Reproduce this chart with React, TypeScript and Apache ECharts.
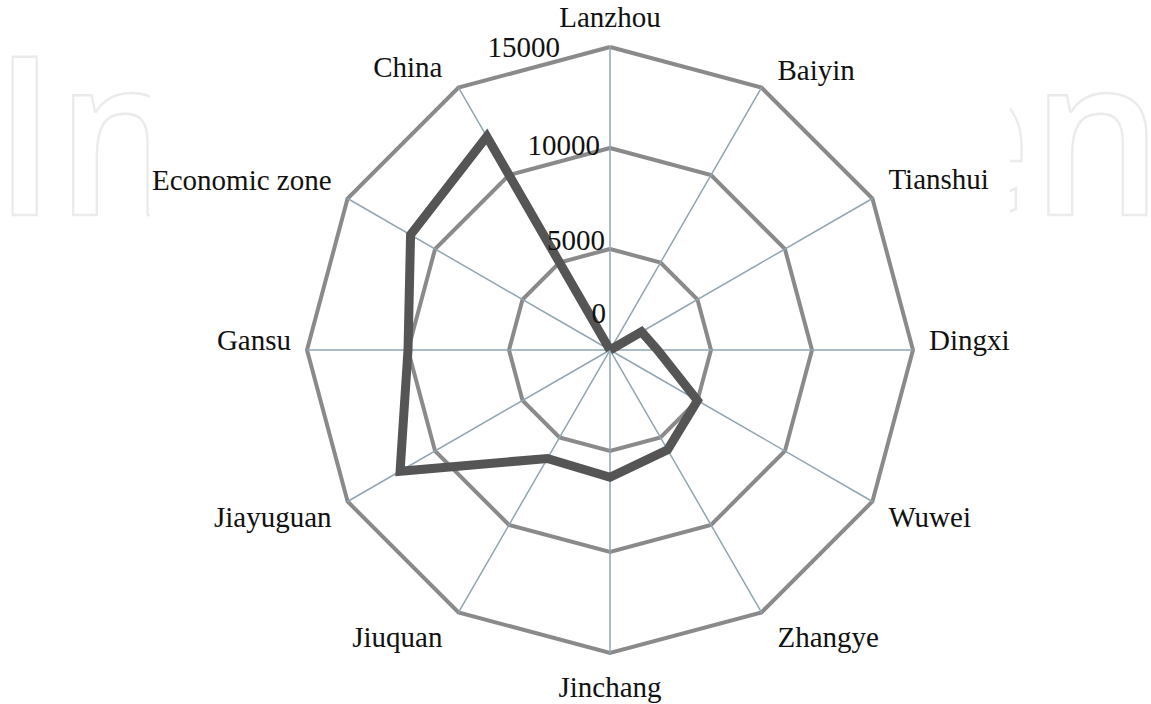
import React, { useEffect, useRef } from "react";
import * as echarts from "echarts";

// Categories listed clockwise starting at the top of the chart
const categories = [
  "Lanzhou",
  "Baiyin",
  "Tianshui",
  "Dingxi",
  "Wuwei",
  "Zhangye",
  "Jinchang",
  "Jiuquan",
  "Jiayuguan",
  "Gansu",
  "Economic zone",
  "China",
];
const values = [0, 0, 1800, 2350, 5000, 5700, 6300, 6200, 12000, 10000, 11400, 12200];
const tickValues = [0, 5000, 10000, 15000];
const tickLabels = ["0", "5000", "10000", "15000"];
const axisMax = 15000;

export default function App() {
  const ref = useRef<HTMLDivElement>(null);
  useEffect(() => {
    const chart = echarts.init(ref.current!, null, { renderer: "svg" });
    const cx = 610;
    const cy = 350;
    const R = 303;
    const n = categories.length;
    // ECharts lays indicators counter-clockwise from the top: reorder
    const order = categories.map((_, k) => (n - k) % n);
    const indicator = order.map((j) => ({ name: categories[j], max: axisMax, min: 0 }));
    const data = order.map((j) => values[j]);

    const font = '"Liberation Serif", "Times New Roman", serif';
    const fontSize = 29;

    // tick label layout tweaks
    const tickDx = [-4, -5, -10, -50];
    const tickDy = [-37, -9, -3, 0];

    // category label layout (vertical offset of text middle from vertex)
    const nameGapX = 16;
    const nameDy = [-30, -18, -20, -10, 15.5, 24.6, 33.5, 24.6, 15.5, -10, -18.5, -20.6];
    const nameGraphics = categories.map((name, j) => {
      const th = ((90 - 30 * j) * Math.PI) / 180;
      const vx = cx + R * Math.cos(th);
      const vy = cy - R * Math.sin(th);
      const c = Math.cos(th);
      const align = Math.abs(c) < 0.01 ? "center" : c > 0 ? "left" : "right";
      const x = align === "center" ? vx : align === "left" ? vx + nameGapX : vx - nameGapX;
      return {
        type: "text",
        z: 100,
        silent: true,
        x,
        y: vy + nameDy[j],
        style: {
          text: name,
          font: `${fontSize}px ${font}`,
          fill: "#111",
          textAlign: align,
          textVerticalAlign: "middle",
        },
      };
    });

    // watermark sizing
    const wmText = "IntechOpen";
    const wmFontSize = 221;
    const wmFont = `600 ${wmFontSize}px "Open Sans", "DejaVu Sans", sans-serif`;
    let wmScale = 1;
    let wmX = 0;
    try {
      const cv = document.createElement("canvas");
      const ctx = cv.getContext("2d")!;
      ctx.font = wmFont;
      const m = ctx.measureText(wmText);
      const gw = m.actualBoundingBoxLeft + m.actualBoundingBoxRight;
      wmScale = 1135 / gw;
      wmX = 12 + m.actualBoundingBoxLeft * wmScale;
    } catch (e) {
      wmScale = 1;
      wmX = 0;
    }

    chart.setOption({
      animation: false,
      backgroundColor: "#ffffff",
      graphic: [
        {
          type: "text",
          z: -20,
          silent: true,
          x: wmX,
          y: 18.5,
          scaleX: wmScale,
          style: {
            text: wmText,
            font: wmFont,
            fill: "rgba(0,0,0,0)",
            stroke: "#ebebeb",
            lineWidth: 2.5,
            textVerticalAlign: "top",
          },
        },
        {
          type: "rect",
          z: -10,
          silent: true,
          shape: { x: 150, y: 0, width: 860, height: 704 },
          style: { fill: "#ffffff" },
        },
        ...tickValues.map((v, i) => ({
          type: "text",
          z: 100,
          silent: true,
          x: cx + tickDx[i],
          y: cy - (R * v) / axisMax + tickDy[i],
          style: {
            text: tickLabels[i],
            font: `${fontSize}px ${font}`,
            fill: "#111",
            textAlign: "right",
            textVerticalAlign: "middle",
          },
        })),
        ...nameGraphics,
      ],
      radar: {
        center: [cx, cy],
        radius: R,
        shape: "polygon",
        splitNumber: 3,
        startAngle: 90,
        axisName: { show: false },
        indicator,
        axisLine: { lineStyle: { color: "#8fa6b2", width: 1.5 } },
        splitLine: { lineStyle: { color: "#8a8a8a", width: 4 } },
        splitArea: { show: false },
        axisTick: { show: false },
        axisLabel: { show: false },
      },
      series: [
        {
          type: "radar",
          symbol: "none",
          z: 5,
          lineStyle: { color: "#555555", width: 9, join: "miter" },
          data: [{ value: data }],
        },
      ],
    });
    return () => chart.dispose();
  }, []);
  return (
    <div
      ref={ref}
      style={{ position: "absolute", left: 0, top: 0, width: 1151, height: 704 }}
    />
  );
}
